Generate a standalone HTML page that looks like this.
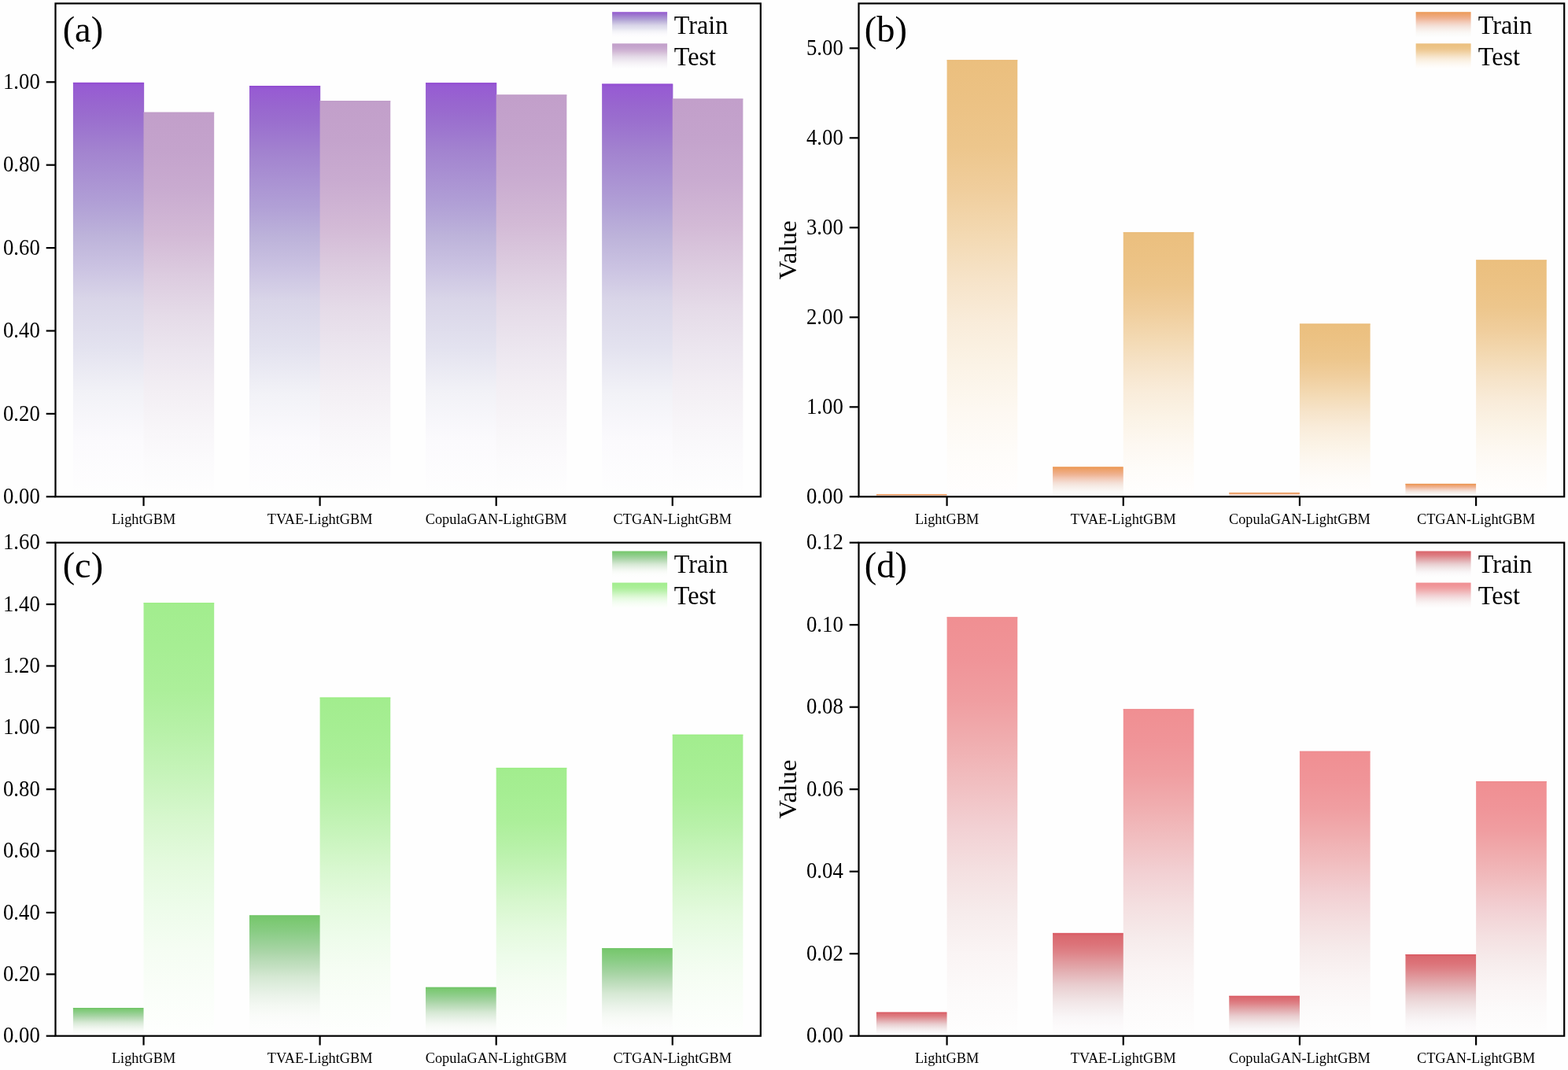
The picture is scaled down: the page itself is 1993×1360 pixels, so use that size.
<!DOCTYPE html><html><head><meta charset="utf-8"><title>Train/Test comparison</title><style>
html,body{margin:0;padding:0;background:#fff;}svg{display:block;}
text{font-family:"Liberation Serif","Times New Roman",serif;fill:#000;}
</style></head><body>
<svg width="1993" height="1360" viewBox="0 0 1993 1360">
<rect x="0" y="0" width="1993" height="1360" fill="#fefefe"/>
<defs>
<linearGradient id="g_a_tr" x1="0" y1="0" x2="0" y2="1"><stop offset="0" stop-color="#944fd3"/><stop offset="0.009" stop-color="#975bd3"/><stop offset="0.047" stop-color="#9865cf"/><stop offset="0.085" stop-color="#9a6ece"/><stop offset="0.124" stop-color="#9e78cf"/><stop offset="0.16" stop-color="#a282cf"/><stop offset="0.295" stop-color="#b1a0d6"/><stop offset="0.37" stop-color="#bdb3da"/><stop offset="0.447" stop-color="#cbc3e2"/><stop offset="0.523" stop-color="#d9d5e8"/><stop offset="0.637" stop-color="#e3e2ef"/><stop offset="0.75" stop-color="#f2f2f7"/><stop offset="0.865" stop-color="#fbfafd"/><stop offset="1" stop-color="#fefefe"/></linearGradient>
<linearGradient id="g_a_te" x1="0" y1="0" x2="0" y2="1"><stop offset="0" stop-color="#c29fca"/><stop offset="0.1" stop-color="#c4a3cc"/><stop offset="0.2" stop-color="#c9abd0"/><stop offset="0.32" stop-color="#d3bad6"/><stop offset="0.42" stop-color="#dccbdf"/><stop offset="0.526" stop-color="#e5dbe8"/><stop offset="0.63" stop-color="#ece6ef"/><stop offset="0.73" stop-color="#f3eff4"/><stop offset="0.83" stop-color="#f8f6f9"/><stop offset="0.9" stop-color="#fbfafc"/><stop offset="1" stop-color="#fefefe"/></linearGradient>
<linearGradient id="g_b_tr" x1="0" y1="0" x2="0" y2="1"><stop offset="0" stop-color="#ec9a55"/><stop offset="0.08" stop-color="#eda16a"/><stop offset="0.176" stop-color="#eeaa7f"/><stop offset="0.27" stop-color="#efb596"/><stop offset="0.36" stop-color="#f2c5af"/><stop offset="0.46" stop-color="#f3d4c6"/><stop offset="0.55" stop-color="#f4e1d8"/><stop offset="0.645" stop-color="#f6ebe5"/><stop offset="0.74" stop-color="#f9f3ef"/><stop offset="0.83" stop-color="#fbf9f7"/><stop offset="0.93" stop-color="#fcfcfb"/><stop offset="1" stop-color="#fefefe"/></linearGradient>
<linearGradient id="g_b_te" x1="0" y1="0" x2="0" y2="1"><stop offset="0" stop-color="#ebbf7e"/><stop offset="0.1" stop-color="#ecc284"/><stop offset="0.2" stop-color="#edc68c"/><stop offset="0.3" stop-color="#f0ce9d"/><stop offset="0.4" stop-color="#f3d9b2"/><stop offset="0.5" stop-color="#f6e3c8"/><stop offset="0.6" stop-color="#f9ecda"/><stop offset="0.7" stop-color="#fbf3e6"/><stop offset="0.8" stop-color="#fdf8f1"/><stop offset="0.9" stop-color="#fefcf9"/><stop offset="1" stop-color="#fffefe"/></linearGradient>
<linearGradient id="g_c_tr" x1="0" y1="0" x2="0" y2="1"><stop offset="0" stop-color="#74c66b"/><stop offset="0.054" stop-color="#7dc974"/><stop offset="0.13" stop-color="#88cc83"/><stop offset="0.21" stop-color="#97d094"/><stop offset="0.285" stop-color="#a6d4a3"/><stop offset="0.36" stop-color="#b6dab4"/><stop offset="0.44" stop-color="#c6e1c4"/><stop offset="0.51" stop-color="#d5e8d3"/><stop offset="0.59" stop-color="#e0eedf"/><stop offset="0.67" stop-color="#ebf3ea"/><stop offset="0.745" stop-color="#f3f8f2"/><stop offset="0.82" stop-color="#f9fbf8"/><stop offset="0.9" stop-color="#fcfdfc"/><stop offset="1" stop-color="#fefefe"/></linearGradient>
<linearGradient id="g_c_te" x1="0" y1="0" x2="0" y2="1"><stop offset="0" stop-color="#a2ed8e"/><stop offset="0.1" stop-color="#a6ee93"/><stop offset="0.2" stop-color="#acef9a"/><stop offset="0.3" stop-color="#b8f1a9"/><stop offset="0.4" stop-color="#c7f4bb"/><stop offset="0.5" stop-color="#d7f7ce"/><stop offset="0.6" stop-color="#e4fade"/><stop offset="0.7" stop-color="#edfcea"/><stop offset="0.8" stop-color="#f5fdf3"/><stop offset="0.9" stop-color="#fafef9"/><stop offset="1" stop-color="#fefffe"/></linearGradient>
<linearGradient id="g_d_tr" x1="0" y1="0" x2="0" y2="1"><stop offset="0" stop-color="#da5e67"/><stop offset="0.034" stop-color="#da6a70"/><stop offset="0.11" stop-color="#dc7379"/><stop offset="0.19" stop-color="#de8388"/><stop offset="0.27" stop-color="#e0979b"/><stop offset="0.35" stop-color="#e2aaad"/><stop offset="0.43" stop-color="#e6bcbf"/><stop offset="0.505" stop-color="#e9cdcf"/><stop offset="0.585" stop-color="#eddadb"/><stop offset="0.66" stop-color="#f1e5e6"/><stop offset="0.74" stop-color="#f5eeef"/><stop offset="0.82" stop-color="#f9f6f7"/><stop offset="0.9" stop-color="#fcfafb"/><stop offset="1" stop-color="#fefefe"/></linearGradient>
<linearGradient id="g_d_te" x1="0" y1="0" x2="0" y2="1"><stop offset="0" stop-color="#f08f92"/><stop offset="0.1" stop-color="#f09498"/><stop offset="0.2" stop-color="#f09ea1"/><stop offset="0.3" stop-color="#f0aeb0"/><stop offset="0.4" stop-color="#f1bfc1"/><stop offset="0.5" stop-color="#f2d0d3"/><stop offset="0.6" stop-color="#f4dfe0"/><stop offset="0.7" stop-color="#f6ebeb"/><stop offset="0.8" stop-color="#faf4f4"/><stop offset="0.9" stop-color="#fcfafa"/><stop offset="1" stop-color="#fefefe"/></linearGradient>
<linearGradient id="l_a_tr" x1="0" y1="0" x2="0" y2="1"><stop offset="0" stop-color="#944fd3"/><stop offset="0.009" stop-color="#975bd3"/><stop offset="0.047" stop-color="#9865cf"/><stop offset="0.085" stop-color="#9a6ece"/><stop offset="0.124" stop-color="#9e78cf"/><stop offset="0.16" stop-color="#a282cf"/><stop offset="0.295" stop-color="#b1a0d6"/><stop offset="0.37" stop-color="#bdb3da"/><stop offset="0.447" stop-color="#cbc3e2"/><stop offset="0.523" stop-color="#d9d5e8"/><stop offset="0.637" stop-color="#e3e2ef"/><stop offset="0.75" stop-color="#f2f2f7"/><stop offset="0.865" stop-color="#fbfafd"/><stop offset="1" stop-color="#fefefe"/></linearGradient>
<linearGradient id="l_a_te" x1="0" y1="0" x2="0" y2="1"><stop offset="0" stop-color="#c29fca"/><stop offset="0.1" stop-color="#c4a3cc"/><stop offset="0.2" stop-color="#c9abd0"/><stop offset="0.32" stop-color="#d3bad6"/><stop offset="0.42" stop-color="#dccbdf"/><stop offset="0.526" stop-color="#e5dbe8"/><stop offset="0.63" stop-color="#ece6ef"/><stop offset="0.73" stop-color="#f3eff4"/><stop offset="0.83" stop-color="#f8f6f9"/><stop offset="0.9" stop-color="#fbfafc"/><stop offset="1" stop-color="#fefefe"/></linearGradient>
<linearGradient id="l_b_tr" x1="0" y1="0" x2="0" y2="1"><stop offset="0" stop-color="#ec9a55"/><stop offset="0.08" stop-color="#eda16a"/><stop offset="0.176" stop-color="#eeaa7f"/><stop offset="0.27" stop-color="#efb596"/><stop offset="0.36" stop-color="#f2c5af"/><stop offset="0.46" stop-color="#f3d4c6"/><stop offset="0.55" stop-color="#f4e1d8"/><stop offset="0.645" stop-color="#f6ebe5"/><stop offset="0.74" stop-color="#f9f3ef"/><stop offset="0.83" stop-color="#fbf9f7"/><stop offset="0.93" stop-color="#fcfcfb"/><stop offset="1" stop-color="#fefefe"/></linearGradient>
<linearGradient id="l_b_te" x1="0" y1="0" x2="0" y2="1"><stop offset="0" stop-color="#ebbf7e"/><stop offset="0.1" stop-color="#ecc284"/><stop offset="0.2" stop-color="#edc68c"/><stop offset="0.3" stop-color="#f0ce9d"/><stop offset="0.4" stop-color="#f3d9b2"/><stop offset="0.5" stop-color="#f6e3c8"/><stop offset="0.6" stop-color="#f9ecda"/><stop offset="0.7" stop-color="#fbf3e6"/><stop offset="0.8" stop-color="#fdf8f1"/><stop offset="0.9" stop-color="#fefcf9"/><stop offset="1" stop-color="#fffefe"/></linearGradient>
<linearGradient id="l_c_tr" x1="0" y1="0" x2="0" y2="1"><stop offset="0" stop-color="#74c66b"/><stop offset="0.054" stop-color="#7dc974"/><stop offset="0.13" stop-color="#88cc83"/><stop offset="0.21" stop-color="#97d094"/><stop offset="0.285" stop-color="#a6d4a3"/><stop offset="0.36" stop-color="#b6dab4"/><stop offset="0.44" stop-color="#c6e1c4"/><stop offset="0.51" stop-color="#d5e8d3"/><stop offset="0.59" stop-color="#e0eedf"/><stop offset="0.67" stop-color="#ebf3ea"/><stop offset="0.745" stop-color="#f3f8f2"/><stop offset="0.82" stop-color="#f9fbf8"/><stop offset="0.9" stop-color="#fcfdfc"/><stop offset="1" stop-color="#fefefe"/></linearGradient>
<linearGradient id="l_c_te" x1="0" y1="0" x2="0" y2="1"><stop offset="0" stop-color="#a2ed8e"/><stop offset="0.1" stop-color="#a6ee93"/><stop offset="0.2" stop-color="#acef9a"/><stop offset="0.3" stop-color="#b8f1a9"/><stop offset="0.4" stop-color="#c7f4bb"/><stop offset="0.5" stop-color="#d7f7ce"/><stop offset="0.6" stop-color="#e4fade"/><stop offset="0.7" stop-color="#edfcea"/><stop offset="0.8" stop-color="#f5fdf3"/><stop offset="0.9" stop-color="#fafef9"/><stop offset="1" stop-color="#fefffe"/></linearGradient>
<linearGradient id="l_d_tr" x1="0" y1="0" x2="0" y2="1"><stop offset="0" stop-color="#da5e67"/><stop offset="0.034" stop-color="#da6a70"/><stop offset="0.11" stop-color="#dc7379"/><stop offset="0.19" stop-color="#de8388"/><stop offset="0.27" stop-color="#e0979b"/><stop offset="0.35" stop-color="#e2aaad"/><stop offset="0.43" stop-color="#e6bcbf"/><stop offset="0.505" stop-color="#e9cdcf"/><stop offset="0.585" stop-color="#eddadb"/><stop offset="0.66" stop-color="#f1e5e6"/><stop offset="0.74" stop-color="#f5eeef"/><stop offset="0.82" stop-color="#f9f6f7"/><stop offset="0.9" stop-color="#fcfafb"/><stop offset="1" stop-color="#fefefe"/></linearGradient>
<linearGradient id="l_d_te" x1="0" y1="0" x2="0" y2="1"><stop offset="0" stop-color="#f08f92"/><stop offset="0.1" stop-color="#f09498"/><stop offset="0.2" stop-color="#f09ea1"/><stop offset="0.3" stop-color="#f0aeb0"/><stop offset="0.4" stop-color="#f1bfc1"/><stop offset="0.5" stop-color="#f2d0d3"/><stop offset="0.6" stop-color="#f4dfe0"/><stop offset="0.7" stop-color="#f6ebeb"/><stop offset="0.8" stop-color="#faf4f4"/><stop offset="0.9" stop-color="#fcfafa"/><stop offset="1" stop-color="#fefefe"/></linearGradient>
</defs>
<g id="panel-a">
<rect x="92.91" y="104.90" width="90.23" height="526.40" fill="url(#g_a_tr)"/>
<rect x="92.91" y="104.90" width="89.63" height="1.3" fill="#924cd2" opacity="0.8"/>
<rect x="182.54" y="142.70" width="89.63" height="488.60" fill="url(#g_a_te)"/>
<rect x="182.54" y="142.70" width="89.63" height="1.3" fill="#c09bc8" opacity="0.8"/>
<rect x="316.98" y="109.00" width="90.23" height="522.30" fill="url(#g_a_tr)"/>
<rect x="316.98" y="109.00" width="89.63" height="1.3" fill="#924cd2" opacity="0.8"/>
<rect x="406.61" y="128.10" width="89.63" height="503.20" fill="url(#g_a_te)"/>
<rect x="406.61" y="128.10" width="89.63" height="1.3" fill="#c09bc8" opacity="0.8"/>
<rect x="541.06" y="105.20" width="90.23" height="526.10" fill="url(#g_a_tr)"/>
<rect x="541.06" y="105.20" width="89.63" height="1.3" fill="#924cd2" opacity="0.8"/>
<rect x="630.69" y="120.40" width="89.63" height="510.90" fill="url(#g_a_te)"/>
<rect x="630.69" y="120.40" width="89.63" height="1.3" fill="#c09bc8" opacity="0.8"/>
<rect x="765.13" y="106.60" width="90.23" height="524.70" fill="url(#g_a_tr)"/>
<rect x="765.13" y="106.60" width="89.63" height="1.3" fill="#924cd2" opacity="0.8"/>
<rect x="854.76" y="125.50" width="89.63" height="505.80" fill="url(#g_a_te)"/>
<rect x="854.76" y="125.50" width="89.63" height="1.3" fill="#c09bc8" opacity="0.8"/>
<rect x="70.5" y="4.4" width="896.30" height="626.90" fill="none" stroke="#000" stroke-width="2.2"/>
<line x1="58.70" y1="631.30" x2="70.50" y2="631.30" stroke="#000" stroke-width="2.2"/>
<text transform="translate(50.80,639.90) scale(1,1.07)" font-size="26.8" text-anchor="end">0.00</text>
<line x1="58.70" y1="525.90" x2="70.50" y2="525.90" stroke="#000" stroke-width="2.2"/>
<text transform="translate(50.80,534.50) scale(1,1.07)" font-size="26.8" text-anchor="end">0.20</text>
<line x1="58.70" y1="420.50" x2="70.50" y2="420.50" stroke="#000" stroke-width="2.2"/>
<text transform="translate(50.80,429.10) scale(1,1.07)" font-size="26.8" text-anchor="end">0.40</text>
<line x1="58.70" y1="315.10" x2="70.50" y2="315.10" stroke="#000" stroke-width="2.2"/>
<text transform="translate(50.80,323.70) scale(1,1.07)" font-size="26.8" text-anchor="end">0.60</text>
<line x1="58.70" y1="209.70" x2="70.50" y2="209.70" stroke="#000" stroke-width="2.2"/>
<text transform="translate(50.80,218.30) scale(1,1.07)" font-size="26.8" text-anchor="end">0.80</text>
<line x1="58.70" y1="104.30" x2="70.50" y2="104.30" stroke="#000" stroke-width="2.2"/>
<text transform="translate(50.80,112.90) scale(1,1.07)" font-size="26.8" text-anchor="end">1.00</text>
<line x1="182.54" y1="631.30" x2="182.54" y2="643.10" stroke="#000" stroke-width="2.2"/>
<text transform="translate(182.54,666.10) scale(1,1.065)" font-size="18.3" text-anchor="middle">LightGBM</text>
<line x1="406.61" y1="631.30" x2="406.61" y2="643.10" stroke="#000" stroke-width="2.2"/>
<text transform="translate(406.61,666.10) scale(1,1.065)" font-size="18.3" text-anchor="middle">TVAE-LightGBM</text>
<line x1="630.69" y1="631.30" x2="630.69" y2="643.10" stroke="#000" stroke-width="2.2"/>
<text transform="translate(630.69,666.10) scale(1,1.065)" font-size="18.3" text-anchor="middle">CopulaGAN-LightGBM</text>
<line x1="854.76" y1="631.30" x2="854.76" y2="643.10" stroke="#000" stroke-width="2.2"/>
<text transform="translate(854.76,666.10) scale(1,1.065)" font-size="18.3" text-anchor="middle">CTGAN-LightGBM</text>
<text x="79.66" y="53.10" font-size="46.4">(a)</text>
<rect x="778.10" y="15.20" width="70" height="32.5" fill="url(#l_a_tr)"/>
<text transform="translate(856.72,42.80) scale(1,1.045)" font-size="32.2">Train</text>
<rect x="778.10" y="55.30" width="70" height="32.5" fill="url(#l_a_te)"/>
<text transform="translate(856.72,82.62) scale(1,1.045)" font-size="32.2">Test</text>
</g>
<g id="panel-b">
<rect x="1113.92" y="628.00" width="90.27" height="3.30" fill="url(#g_b_tr)"/>
<rect x="1113.92" y="628.00" width="89.67" height="1.3" fill="#eb9550" opacity="0.8"/>
<rect x="1203.59" y="76.20" width="89.67" height="555.10" fill="url(#g_b_te)"/>
<rect x="1203.59" y="76.20" width="89.67" height="1.3" fill="#eabb78" opacity="0.8"/>
<rect x="1338.09" y="593.50" width="90.27" height="37.80" fill="url(#g_b_tr)"/>
<rect x="1338.09" y="593.50" width="89.67" height="1.3" fill="#eb9550" opacity="0.8"/>
<rect x="1427.76" y="295.20" width="89.67" height="336.10" fill="url(#g_b_te)"/>
<rect x="1427.76" y="295.20" width="89.67" height="1.3" fill="#eabb78" opacity="0.8"/>
<rect x="1562.27" y="626.30" width="90.27" height="5.00" fill="url(#g_b_tr)"/>
<rect x="1562.27" y="626.30" width="89.67" height="1.3" fill="#eb9550" opacity="0.8"/>
<rect x="1651.94" y="411.50" width="89.67" height="219.80" fill="url(#g_b_te)"/>
<rect x="1651.94" y="411.50" width="89.67" height="1.3" fill="#eabb78" opacity="0.8"/>
<rect x="1786.44" y="614.90" width="90.27" height="16.40" fill="url(#g_b_tr)"/>
<rect x="1786.44" y="614.90" width="89.67" height="1.3" fill="#eb9550" opacity="0.8"/>
<rect x="1876.11" y="330.40" width="89.67" height="300.90" fill="url(#g_b_te)"/>
<rect x="1876.11" y="330.40" width="89.67" height="1.3" fill="#eabb78" opacity="0.8"/>
<rect x="1091.5" y="4.4" width="896.70" height="626.90" fill="none" stroke="#000" stroke-width="2.2"/>
<line x1="1079.70" y1="631.30" x2="1091.50" y2="631.30" stroke="#000" stroke-width="2.2"/>
<text transform="translate(1071.80,639.90) scale(1,1.07)" font-size="26.8" text-anchor="end">0.00</text>
<line x1="1079.70" y1="517.30" x2="1091.50" y2="517.30" stroke="#000" stroke-width="2.2"/>
<text transform="translate(1071.80,525.90) scale(1,1.07)" font-size="26.8" text-anchor="end">1.00</text>
<line x1="1079.70" y1="403.30" x2="1091.50" y2="403.30" stroke="#000" stroke-width="2.2"/>
<text transform="translate(1071.80,411.90) scale(1,1.07)" font-size="26.8" text-anchor="end">2.00</text>
<line x1="1079.70" y1="289.30" x2="1091.50" y2="289.30" stroke="#000" stroke-width="2.2"/>
<text transform="translate(1071.80,297.90) scale(1,1.07)" font-size="26.8" text-anchor="end">3.00</text>
<line x1="1079.70" y1="175.30" x2="1091.50" y2="175.30" stroke="#000" stroke-width="2.2"/>
<text transform="translate(1071.80,183.90) scale(1,1.07)" font-size="26.8" text-anchor="end">4.00</text>
<line x1="1079.70" y1="61.30" x2="1091.50" y2="61.30" stroke="#000" stroke-width="2.2"/>
<text transform="translate(1071.80,69.90) scale(1,1.07)" font-size="26.8" text-anchor="end">5.00</text>
<line x1="1203.59" y1="631.30" x2="1203.59" y2="643.10" stroke="#000" stroke-width="2.2"/>
<text transform="translate(1203.59,666.10) scale(1,1.065)" font-size="18.3" text-anchor="middle">LightGBM</text>
<line x1="1427.76" y1="631.30" x2="1427.76" y2="643.10" stroke="#000" stroke-width="2.2"/>
<text transform="translate(1427.76,666.10) scale(1,1.065)" font-size="18.3" text-anchor="middle">TVAE-LightGBM</text>
<line x1="1651.94" y1="631.30" x2="1651.94" y2="643.10" stroke="#000" stroke-width="2.2"/>
<text transform="translate(1651.94,666.10) scale(1,1.065)" font-size="18.3" text-anchor="middle">CopulaGAN-LightGBM</text>
<line x1="1876.11" y1="631.30" x2="1876.11" y2="643.10" stroke="#000" stroke-width="2.2"/>
<text transform="translate(1876.11,666.10) scale(1,1.065)" font-size="18.3" text-anchor="middle">CTGAN-LightGBM</text>
<text x="1098.86" y="53.10" font-size="46.4">(b)</text>
<rect x="1799.60" y="15.20" width="70" height="32.5" fill="url(#l_b_tr)"/>
<text transform="translate(1878.72,42.80) scale(1,1.045)" font-size="32.2">Train</text>
<rect x="1799.60" y="55.30" width="70" height="32.5" fill="url(#l_b_te)"/>
<text transform="translate(1878.72,82.62) scale(1,1.045)" font-size="32.2">Test</text>
<text x="0" y="0" font-size="31.5" text-anchor="middle" transform="translate(1011.70,317.85) rotate(-90) scale(1.048,1)">Value</text>
</g>
<g id="panel-c">
<rect x="92.91" y="1281.00" width="90.23" height="35.70" fill="url(#g_c_tr)"/>
<rect x="92.91" y="1281.00" width="89.63" height="1.3" fill="#70c467" opacity="0.8"/>
<rect x="182.54" y="766.20" width="89.63" height="550.50" fill="url(#g_c_te)"/>
<rect x="182.54" y="766.20" width="89.63" height="1.3" fill="#98ec80" opacity="0.8"/>
<rect x="316.98" y="1163.40" width="90.23" height="153.30" fill="url(#g_c_tr)"/>
<rect x="316.98" y="1163.40" width="89.63" height="1.3" fill="#70c467" opacity="0.8"/>
<rect x="406.61" y="886.50" width="89.63" height="430.20" fill="url(#g_c_te)"/>
<rect x="406.61" y="886.50" width="89.63" height="1.3" fill="#98ec80" opacity="0.8"/>
<rect x="541.06" y="1254.80" width="90.23" height="61.90" fill="url(#g_c_tr)"/>
<rect x="541.06" y="1254.80" width="89.63" height="1.3" fill="#70c467" opacity="0.8"/>
<rect x="630.69" y="975.90" width="89.63" height="340.80" fill="url(#g_c_te)"/>
<rect x="630.69" y="975.90" width="89.63" height="1.3" fill="#98ec80" opacity="0.8"/>
<rect x="765.13" y="1205.20" width="90.23" height="111.50" fill="url(#g_c_tr)"/>
<rect x="765.13" y="1205.20" width="89.63" height="1.3" fill="#70c467" opacity="0.8"/>
<rect x="854.76" y="933.70" width="89.63" height="383.00" fill="url(#g_c_te)"/>
<rect x="854.76" y="933.70" width="89.63" height="1.3" fill="#98ec80" opacity="0.8"/>
<rect x="70.5" y="689.7" width="896.30" height="627.00" fill="none" stroke="#000" stroke-width="2.2"/>
<line x1="58.70" y1="1316.70" x2="70.50" y2="1316.70" stroke="#000" stroke-width="2.2"/>
<text transform="translate(50.80,1325.30) scale(1,1.07)" font-size="26.8" text-anchor="end">0.00</text>
<line x1="58.70" y1="1238.33" x2="70.50" y2="1238.33" stroke="#000" stroke-width="2.2"/>
<text transform="translate(50.80,1246.92) scale(1,1.07)" font-size="26.8" text-anchor="end">0.20</text>
<line x1="58.70" y1="1159.95" x2="70.50" y2="1159.95" stroke="#000" stroke-width="2.2"/>
<text transform="translate(50.80,1168.55) scale(1,1.07)" font-size="26.8" text-anchor="end">0.40</text>
<line x1="58.70" y1="1081.58" x2="70.50" y2="1081.58" stroke="#000" stroke-width="2.2"/>
<text transform="translate(50.80,1090.17) scale(1,1.07)" font-size="26.8" text-anchor="end">0.60</text>
<line x1="58.70" y1="1003.20" x2="70.50" y2="1003.20" stroke="#000" stroke-width="2.2"/>
<text transform="translate(50.80,1011.80) scale(1,1.07)" font-size="26.8" text-anchor="end">0.80</text>
<line x1="58.70" y1="924.83" x2="70.50" y2="924.83" stroke="#000" stroke-width="2.2"/>
<text transform="translate(50.80,933.43) scale(1,1.07)" font-size="26.8" text-anchor="end">1.00</text>
<line x1="58.70" y1="846.45" x2="70.50" y2="846.45" stroke="#000" stroke-width="2.2"/>
<text transform="translate(50.80,855.05) scale(1,1.07)" font-size="26.8" text-anchor="end">1.20</text>
<line x1="58.70" y1="768.08" x2="70.50" y2="768.08" stroke="#000" stroke-width="2.2"/>
<text transform="translate(50.80,776.68) scale(1,1.07)" font-size="26.8" text-anchor="end">1.40</text>
<line x1="58.70" y1="689.70" x2="70.50" y2="689.70" stroke="#000" stroke-width="2.2"/>
<text transform="translate(50.80,698.30) scale(1,1.07)" font-size="26.8" text-anchor="end">1.60</text>
<line x1="182.54" y1="1316.70" x2="182.54" y2="1328.50" stroke="#000" stroke-width="2.2"/>
<text transform="translate(182.54,1350.70) scale(1,1.065)" font-size="18.3" text-anchor="middle">LightGBM</text>
<line x1="406.61" y1="1316.70" x2="406.61" y2="1328.50" stroke="#000" stroke-width="2.2"/>
<text transform="translate(406.61,1350.70) scale(1,1.065)" font-size="18.3" text-anchor="middle">TVAE-LightGBM</text>
<line x1="630.69" y1="1316.70" x2="630.69" y2="1328.50" stroke="#000" stroke-width="2.2"/>
<text transform="translate(630.69,1350.70) scale(1,1.065)" font-size="18.3" text-anchor="middle">CopulaGAN-LightGBM</text>
<line x1="854.76" y1="1316.70" x2="854.76" y2="1328.50" stroke="#000" stroke-width="2.2"/>
<text transform="translate(854.76,1350.70) scale(1,1.065)" font-size="18.3" text-anchor="middle">CTGAN-LightGBM</text>
<text x="79.66" y="733.60" font-size="46.4">(c)</text>
<rect x="778.10" y="700.50" width="70" height="32.5" fill="url(#l_c_tr)"/>
<text transform="translate(856.72,728.10) scale(1,1.045)" font-size="32.2">Train</text>
<rect x="778.10" y="740.60" width="70" height="32.5" fill="url(#l_c_te)"/>
<text transform="translate(856.72,767.92) scale(1,1.045)" font-size="32.2">Test</text>
</g>
<g id="panel-d">
<rect x="1113.92" y="1286.60" width="90.27" height="30.10" fill="url(#g_d_tr)"/>
<rect x="1113.92" y="1286.60" width="89.67" height="1.3" fill="#d95962" opacity="0.8"/>
<rect x="1203.59" y="784.30" width="89.67" height="532.40" fill="url(#g_d_te)"/>
<rect x="1203.59" y="784.30" width="89.67" height="1.3" fill="#ef8b8e" opacity="0.8"/>
<rect x="1338.09" y="1185.90" width="90.27" height="130.80" fill="url(#g_d_tr)"/>
<rect x="1338.09" y="1185.90" width="89.67" height="1.3" fill="#d95962" opacity="0.8"/>
<rect x="1427.76" y="901.20" width="89.67" height="415.50" fill="url(#g_d_te)"/>
<rect x="1427.76" y="901.20" width="89.67" height="1.3" fill="#ef8b8e" opacity="0.8"/>
<rect x="1562.27" y="1265.80" width="90.27" height="50.90" fill="url(#g_d_tr)"/>
<rect x="1562.27" y="1265.80" width="89.67" height="1.3" fill="#d95962" opacity="0.8"/>
<rect x="1651.94" y="954.80" width="89.67" height="361.90" fill="url(#g_d_te)"/>
<rect x="1651.94" y="954.80" width="89.67" height="1.3" fill="#ef8b8e" opacity="0.8"/>
<rect x="1786.44" y="1213.00" width="90.27" height="103.70" fill="url(#g_d_tr)"/>
<rect x="1786.44" y="1213.00" width="89.67" height="1.3" fill="#d95962" opacity="0.8"/>
<rect x="1876.11" y="993.00" width="89.67" height="323.70" fill="url(#g_d_te)"/>
<rect x="1876.11" y="993.00" width="89.67" height="1.3" fill="#ef8b8e" opacity="0.8"/>
<rect x="1091.5" y="689.7" width="896.70" height="627.00" fill="none" stroke="#000" stroke-width="2.2"/>
<line x1="1079.70" y1="1316.70" x2="1091.50" y2="1316.70" stroke="#000" stroke-width="2.2"/>
<text transform="translate(1071.80,1325.30) scale(1,1.07)" font-size="26.8" text-anchor="end">0.00</text>
<line x1="1079.70" y1="1212.20" x2="1091.50" y2="1212.20" stroke="#000" stroke-width="2.2"/>
<text transform="translate(1071.80,1220.80) scale(1,1.07)" font-size="26.8" text-anchor="end">0.02</text>
<line x1="1079.70" y1="1107.70" x2="1091.50" y2="1107.70" stroke="#000" stroke-width="2.2"/>
<text transform="translate(1071.80,1116.30) scale(1,1.07)" font-size="26.8" text-anchor="end">0.04</text>
<line x1="1079.70" y1="1003.20" x2="1091.50" y2="1003.20" stroke="#000" stroke-width="2.2"/>
<text transform="translate(1071.80,1011.80) scale(1,1.07)" font-size="26.8" text-anchor="end">0.06</text>
<line x1="1079.70" y1="898.70" x2="1091.50" y2="898.70" stroke="#000" stroke-width="2.2"/>
<text transform="translate(1071.80,907.30) scale(1,1.07)" font-size="26.8" text-anchor="end">0.08</text>
<line x1="1079.70" y1="794.20" x2="1091.50" y2="794.20" stroke="#000" stroke-width="2.2"/>
<text transform="translate(1071.80,802.80) scale(1,1.07)" font-size="26.8" text-anchor="end">0.10</text>
<line x1="1079.70" y1="689.70" x2="1091.50" y2="689.70" stroke="#000" stroke-width="2.2"/>
<text transform="translate(1071.80,698.30) scale(1,1.07)" font-size="26.8" text-anchor="end">0.12</text>
<line x1="1203.59" y1="1316.70" x2="1203.59" y2="1328.50" stroke="#000" stroke-width="2.2"/>
<text transform="translate(1203.59,1350.70) scale(1,1.065)" font-size="18.3" text-anchor="middle">LightGBM</text>
<line x1="1427.76" y1="1316.70" x2="1427.76" y2="1328.50" stroke="#000" stroke-width="2.2"/>
<text transform="translate(1427.76,1350.70) scale(1,1.065)" font-size="18.3" text-anchor="middle">TVAE-LightGBM</text>
<line x1="1651.94" y1="1316.70" x2="1651.94" y2="1328.50" stroke="#000" stroke-width="2.2"/>
<text transform="translate(1651.94,1350.70) scale(1,1.065)" font-size="18.3" text-anchor="middle">CopulaGAN-LightGBM</text>
<line x1="1876.11" y1="1316.70" x2="1876.11" y2="1328.50" stroke="#000" stroke-width="2.2"/>
<text transform="translate(1876.11,1350.70) scale(1,1.065)" font-size="18.3" text-anchor="middle">CTGAN-LightGBM</text>
<text x="1098.86" y="733.60" font-size="46.4">(d)</text>
<rect x="1799.60" y="700.50" width="70" height="32.5" fill="url(#l_d_tr)"/>
<text transform="translate(1878.72,728.10) scale(1,1.045)" font-size="32.2">Train</text>
<rect x="1799.60" y="740.60" width="70" height="32.5" fill="url(#l_d_te)"/>
<text transform="translate(1878.72,767.92) scale(1,1.045)" font-size="32.2">Test</text>
<text x="0" y="0" font-size="31.5" text-anchor="middle" transform="translate(1011.70,1003.20) rotate(-90) scale(1.048,1)">Value</text>
</g>
</svg></body></html>
